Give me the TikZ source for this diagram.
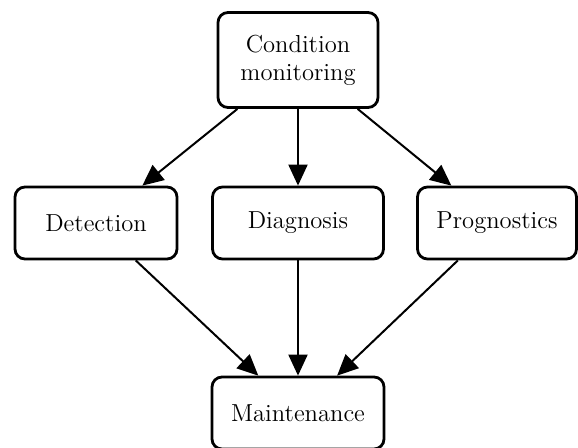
\documentclass[tikz,border=0pt]{standalone}
\usetikzlibrary{arrows.meta, positioning}

\begin{document}
\begin{tikzpicture}[x=0.5pt, y=-0.5pt,
	block/.style={draw, line width=1.4pt, rounded corners=5pt, fill=white, align=center,
		minimum width=80pt, minimum height=36pt, font=\fontsize{12.3}{14}\selectfont},
	flow/.style={-{Triangle[length=10.5pt, width=9.5pt]}, line width=1pt}]
	\useasboundingbox (0,0) rectangle (578,447);

	% --- boxes ---
	\node[block, minimum height=47.5pt] (cond) at (298,60) {Condition\\monitoring};
	\node[block, minimum width=81pt] (detect) at (96,223) {Detection};
	\node[block, minimum width=85.5pt] (diag) at (298,223) {Diagnosis};
	\node[block, minimum width=79.5pt] (prog) at (497,223) {Prognostics};
	\node[block, minimum width=86pt] (maint) at (298,413) {Maintenance};

	% --- arrows ---
	\draw[flow] (cond) -- (detect);
	\draw[flow] (cond) -- (diag);
	\draw[flow] (cond) -- (prog);
	\draw[flow] (detect) -- (maint);
	\draw[flow] (diag) -- (maint);
	\draw[flow] (prog) -- (maint);
\end{tikzpicture}
\end{document}
